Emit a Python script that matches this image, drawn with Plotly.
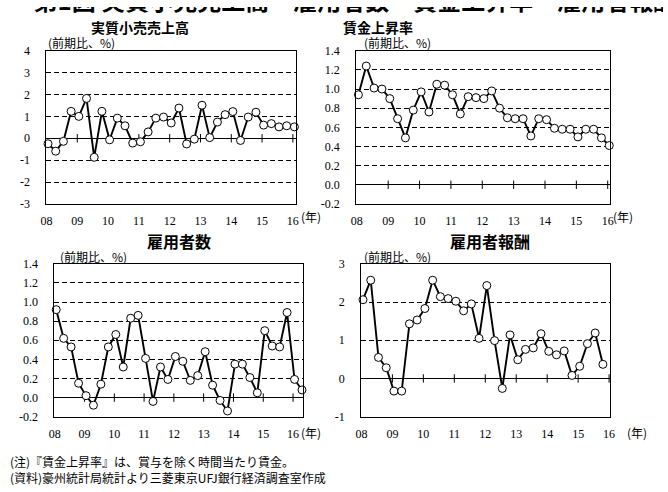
import plotly.graph_objects as go

W, H = 668, 492

# ---------------- data ----------------
year_labels = ["08", "09", "10", "11", "12", "13", "14", "15", "16"]

retail = [-0.25, -0.59, -0.14, 1.23, 1.00, 1.82, -0.87, 1.23, -0.07, 0.92, 0.57,
          -0.22, -0.16, 0.29, 0.92, 0.97, 0.70, 1.38, -0.26, -0.04, 1.51, 0.03,
          0.74, 1.08, 1.22, -0.10, 0.97, 1.19, 0.60, 0.67, 0.52, 0.57, 0.52]

wage = [0.94, 1.24, 1.01, 1.00, 0.90, 0.69, 0.49, 0.78, 0.97, 0.76, 1.05, 1.04,
        0.94, 0.74, 0.92, 0.91, 0.90, 0.98, 0.80, 0.70, 0.69, 0.69, 0.51, 0.69,
        0.68, 0.59, 0.58, 0.58, 0.50, 0.58, 0.58, 0.49, 0.41]

employment = [0.92, 0.62, 0.53, 0.15, 0.02, -0.08, 0.14, 0.53, 0.66, 0.32, 0.83,
              0.86, 0.41, -0.04, 0.32, 0.19, 0.43, 0.38, 0.18, 0.23, 0.48, 0.13,
              -0.03, -0.14, 0.35, 0.35, 0.21, 0.05, 0.70, 0.54, 0.53, 0.89, 0.19, 0.08]

compensation = [2.06, 2.57, 0.55, 0.28, -0.33, -0.33, 1.43, 1.53, 1.83, 2.57, 2.14,
                2.09, 2.02, 1.77, 1.95, 1.05, 2.43, 0.99, -0.26, 1.14, 0.49, 0.76,
                0.80, 1.17, 0.71, 0.62, 0.72, 0.08, 0.32, 0.91, 1.19, 0.37]

y_int_a = ["4", "3", "2", "1", "0", "-1", "-2", "-3"]
y_int_a_vals = [4, 3, 2, 1, 0, -1, -2, -3]
y_dec = ["1.4", "1.2", "1.0", "0.8", "0.6", "0.4", "0.2", "0.0", "-0.2"]
y_dec_vals = [1.4, 1.2, 1.0, 0.8, 0.6, 0.4, 0.2, 0.0, -0.2]
y_int_b = ["3", "2", "1", "0", "-1"]
y_int_b_vals = [3, 2, 1, 0, -1]

titles = ["実質小売売上高", "賃金上昇率", "雇用者数", "雇用者報酬"]
unit_label = "(前期比、%)"
year_unit = "(年)"
main_title = "第1図 実質小売売上高・雇用者数・賃金上昇率・雇用者報酬"
notes = ["(注)『賃金上昇率』は、賞与を除く時間当たり賃金。",
         "(資料)豪州統計局統計より三菱東京UFJ銀行経済調査室作成"]


def fx(px):
    return px / W


def fy(py):
    return 1 - py / H


panels = [
    dict(data=retail, xdom=(41, 294.5), ydom=(45, 202.7), yr=(-3, 4),
         yv=y_int_a_vals, yt=y_int_a, xr=(-0.22, 32.16),
         title=titles[0], tpos=(136, 21), tsize=14, upos=(41, 37), ypos=(310, 216)),
    dict(data=wage, xdom=(356, 613.7), ydom=(45, 202.7), yr=(-0.2, 1.4),
         yv=y_dec_vals, yt=y_dec, xr=(-0.29, 32.04),
         title=titles[1], tpos=(378, 21), tsize=14, upos=(362, 37), ypos=(627, 216)),
    dict(data=employment, xdom=(49.3, 301.7), ydom=(264.3, 421.7), yr=(-0.2, 1.4),
         yv=y_dec_vals, yt=y_dec, xr=(-0.23, 33.1),
         title=titles[2], tpos=(176, 241), tsize=16, upos=(53, 257), ypos=(310, 438)),
    dict(data=compensation, xdom=(361, 614.3), ydom=(264.3, 421.7), yr=(-1, 3),
         yv=y_int_b_vals, yt=y_int_b, xr=(-0.25, 31.94),
         title=titles[3], tpos=(492, 241), tsize=16, upos=(362, 257), ypos=(642, 438)),
]

fig = go.Figure()
annotations = []
tickvals_x = [4 * k - 0.2 for k in range(len(year_labels))]

for i, p in enumerate(panels):
    n = i + 1
    xa = "x" if n == 1 else f"x{n}"
    ya = "y" if n == 1 else f"y{n}"
    xkey = "xaxis" if n == 1 else f"xaxis{n}"
    ykey = "yaxis" if n == 1 else f"yaxis{n}"

    # cross tick marks on the zero line
    fig.add_trace(go.Scatter(
        x=tickvals_x[1:], y=[0] * (len(tickvals_x) - 1), mode="markers",
        marker=dict(symbol="line-ns", size=6, line=dict(color="black", width=1)),
        xaxis=xa, yaxis=ya, hoverinfo="skip", showlegend=False, cliponaxis=False))

    fig.add_trace(go.Scatter(
        x=list(range(len(p["data"]))), y=p["data"], mode="lines+markers",
        line=dict(color="black", width=1.9),
        marker=dict(size=8, color="white", line=dict(color="black", width=1)),
        xaxis=xa, yaxis=ya, showlegend=False, cliponaxis=False))

    fig.layout[xkey] = dict(
        domain=[fx(p["xdom"][0]), fx(p["xdom"][1])], anchor=ya,
        range=list(p["xr"]), tickvals=tickvals_x, ticktext=year_labels,
        showgrid=False, zeroline=False, ticks="", showline=True, mirror=True,
        linecolor="black", linewidth=1, ticklabelstandoff=6,
        tickfont=dict(family="Liberation Serif", size=12, color="black"))
    fig.layout[ykey] = dict(
        domain=[fy(p["ydom"][1]), fy(p["ydom"][0])], anchor=xa,
        range=list(p["yr"]), tickvals=p["yv"], ticktext=p["yt"],
        showgrid=True, gridcolor="black", gridwidth=1, griddash="5px,3px",
        zeroline=True, zerolinecolor="black", zerolinewidth=1,
        ticks="", showline=True, mirror=True, linecolor="black", linewidth=1,
        ticklabelstandoff=13,
        tickfont=dict(family="Liberation Serif", size=12, color="black"))

    annotations.append(dict(
        text=p["title"], x=fx(p["tpos"][0]), y=fy(p["tpos"][1]), xref="paper", yref="paper",
        xanchor="center", yanchor="middle", showarrow=False,
        font=dict(family="Noto Sans CJK JP", size=p["tsize"], color="black", weight="bold")))
    annotations.append(dict(
        text=unit_label, x=fx(p["upos"][0]), y=fy(p["upos"][1]), xref="paper", yref="paper",
        xanchor="left", yanchor="middle", showarrow=False,
        font=dict(family="Noto Sans CJK JP", size=12, color="black")))
    annotations.append(dict(
        text=year_unit, x=fx(p["ypos"][0]), y=fy(p["ypos"][1]), xref="paper", yref="paper",
        xanchor="center", yanchor="middle", showarrow=False,
        font=dict(family="Noto Sans CJK JP", size=12, color="black")))

annotations.append(dict(
    text="<br>".join(notes), x=fx(2), y=fy(476), xref="paper", yref="paper",
    xanchor="left", yanchor="middle", align="left", showarrow=False,
    font=dict(family="Noto Sans CJK JP", size=12, color="black")))

# Main title: cut by the top edge of the page (only the lower part of the glyphs shows).
# Drawn in a thin strip subplot at the very top so the upper part is clipped.
strip_h = 9
fig.add_trace(go.Scatter(
    x=[28], y=[-3.5], mode="text", text=[main_title], textposition="middle right",
    textfont=dict(family="Noto Sans CJK JP", size=24, color="black", weight="bold"),
    xaxis="x5", yaxis="y5", hoverinfo="skip", showlegend=False, cliponaxis=True))
fig.layout["xaxis5"] = dict(domain=[0, 1], range=[0, W], visible=False, anchor="y5",
                            fixedrange=True)
fig.layout["yaxis5"] = dict(domain=[fy(strip_h), 1], range=[strip_h, 0], visible=False,
                            anchor="x5", fixedrange=True)

fig.update_layout(
    width=W, height=H, margin=dict(l=0, r=0, t=0, b=0),
    paper_bgcolor="white", plot_bgcolor="rgba(0,0,0,0)",
    annotations=annotations, showlegend=False)

fig.write_html("out.html", config={"displayModeBar": False},
               post_script="document.body.style.margin='0';")
